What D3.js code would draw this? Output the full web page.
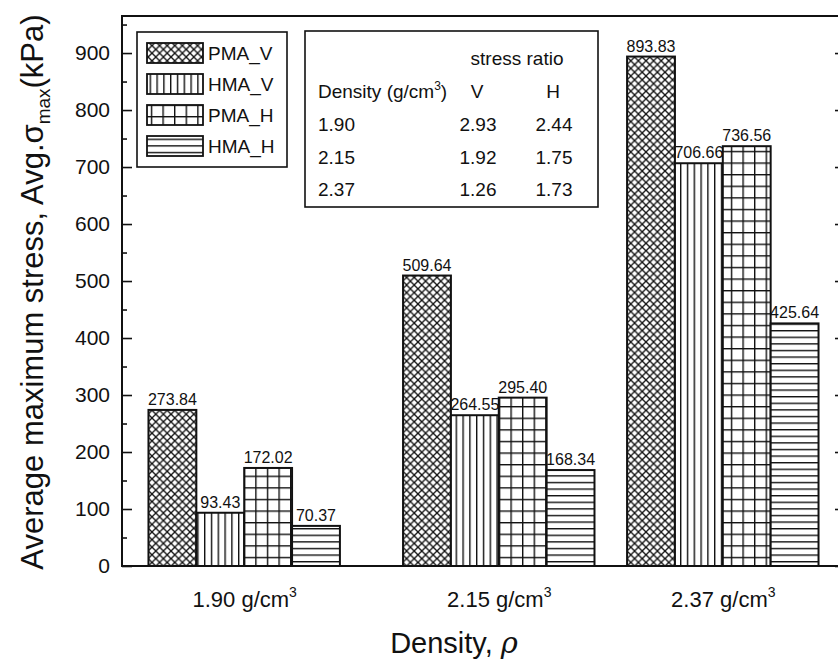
<!DOCTYPE html>
<html>
<head>
<meta charset="utf-8">
<script src="https://cdn.jsdelivr.net/npm/d3@7"></script>
<style>
  body { margin: 0; background: #fff; }
  svg { display: block; font-family: 'Liberation Sans', Arial, sans-serif; }
  .axis path, .axis line { stroke: #111; }
  .axis text { fill: #111; }
</style>
</head>
<body>
<div id="chart"></div>
<script>
// chart values
var densities = [1.90, 2.15, 2.37];
var densityLabels = ['1.90', '2.15', '2.37'];
var seriesNames = ['PMA_V', 'HMA_V', 'PMA_H', 'HMA_H'];
var pmaV = [273.84, 509.64, 893.83];
var hmaV = [93.43, 264.55, 706.66];
var pmaH = [172.02, 295.40, 736.56];
var hmaH = [70.37, 168.34, 425.64];
var ratioV = ['2.93', '1.92', '1.26'];
var ratioH = ['2.44', '1.75', '1.73'];
var yTicks = [0, 100, 200, 300, 400, 500, 600, 700, 800, 900];
var yMinorTicks = [50, 150, 250, 350, 450, 550, 650, 750, 850, 950];

var W = 838, H = 667;
var ink = '#111';

var svg = d3.select('#chart').append('svg')
  .attr('width', W)
  .attr('height', H);

// x is the density itself (groups are not evenly spaced)
var x = d3.scaleLinear().domain([1.78, 2.49]).range([122, 845]);
var y = d3.scaleLinear().domain([0, 965]).range([566, 16]);
var barW = x(1.78 + 0.047) - x(1.78);

// hatch patterns
var defs = svg.append('defs');
function makePattern (id, size, lines, sw) {
  var p = defs.append('pattern')
    .attr('id', id)
    .attr('patternUnits', 'userSpaceOnUse')
    .attr('width', size)
    .attr('height', size);
  p.append('rect').attr('width', size).attr('height', size).attr('fill', '#fff');
  lines.forEach(function (l) {
    p.append('line')
      .attr('x1', l[0]).attr('y1', l[1]).attr('x2', l[2]).attr('y2', l[3])
      .attr('stroke', ink)
      .attr('stroke-width', sw);
  });
}
makePattern('p0', 7.6, [[0, 0, 7.6, 7.6], [7.6, 0, 0, 7.6]], 1.3);
makePattern('p1', 6.8, [[0.7, 0, 0.7, 6.8]], 1.4);
makePattern('p2', 11.6, [[0.7, 0, 0.7, 11.6], [0, 0.7, 11.6, 0.7]], 1.4);
makePattern('p3', 6.6, [[0, 0.7, 6.6, 0.7]], 1.4);

var series = [pmaV, hmaV, pmaH, hmaH];
var fmt = d3.format('.2f');

// bars
series.forEach(function (vals, i) {
  var g = svg.append('g');
  g.selectAll('rect')
    .data(vals)
    .enter().append('rect')
    .attr('x', function (d, j) { return x(densities[j]) + (i - 2) * barW; })
    .attr('y', function (d) { return y(d); })
    .attr('width', barW)
    .attr('height', function (d) { return y(0) - y(d); })
    .attr('fill', 'url(#p' + i + ')')
    .attr('stroke', ink)
    .attr('stroke-width', 2);
  g.selectAll('text')
    .data(vals)
    .enter().append('text')
    .attr('x', function (d, j) { return x(densities[j]) + (i - 1.5) * barW; })
    .attr('y', function (d) { return y(d) - 5; })
    .attr('text-anchor', 'middle')
    .attr('font-size', 16)
    .attr('fill', ink)
    .text(function (d) { return fmt(d); });
});

// frame
svg.append('path')
  .attr('d', 'M' + x(1.78) + ',' + y(0) + 'V' + y(965) + 'H' + x(2.49) + 'V' + y(0) + 'Z')
  .attr('fill', 'none')
  .attr('stroke', ink)
  .attr('stroke-width', 2);

// left axis, inward ticks
svg.append('g')
  .attr('class', 'axis')
  .attr('transform', 'translate(' + x(1.78) + ',0)')
  .call(d3.axisLeft(y).tickValues(yTicks).tickSize(-10).tickPadding(12))
  .call(function (g) { g.select('.domain').remove(); })
  .selectAll('text')
  .attr('font-size', 21)
  .attr('font-family', 'Liberation Sans, Arial, sans-serif');
svg.append('g')
  .attr('class', 'axis')
  .attr('transform', 'translate(' + x(1.78) + ',0)')
  .call(d3.axisLeft(y).tickValues(yMinorTicks).tickSize(-5).tickFormat(''))
  .call(function (g) { g.select('.domain').remove(); });

// right axis, inward ticks
svg.append('g')
  .attr('class', 'axis')
  .attr('transform', 'translate(' + x(2.49) + ',0)')
  .call(d3.axisRight(y).tickValues(yTicks).tickSize(-10).tickFormat(''))
  .call(function (g) { g.select('.domain').remove(); });
svg.append('g')
  .attr('class', 'axis')
  .attr('transform', 'translate(' + x(2.49) + ',0)')
  .call(d3.axisRight(y).tickValues(yMinorTicks).tickSize(-5).tickFormat(''))
  .call(function (g) { g.select('.domain').remove(); });
svg.selectAll('.axis line').attr('stroke-width', 1.6);

// bottom axis labels
var xAxisG = svg.append('g')
  .attr('class', 'axis')
  .attr('transform', 'translate(0,' + y(0) + ')')
  .call(d3.axisBottom(x).tickValues(densities).tickSize(0).tickPadding(0).tickFormat(''));
xAxisG.select('.domain').remove();
xAxisG.selectAll('.tick text')
  .attr('font-size', 22)
  .attr('font-family', 'Liberation Sans, Arial, sans-serif')
  .attr('dy', null)
  .attr('y', 41)
  .each(function (d, j) {
    var t = d3.select(this);
    t.append('tspan').text(densityLabels[j] + ' g/cm');
    t.append('tspan').attr('font-size', 14).attr('dy', -10).text('3');
  });

// axis titles
svg.append('text')
  .attr('x', 454)
  .attr('y', 653)
  .attr('text-anchor', 'middle')
  .attr('font-size', 29)
  .attr('fill', ink)
  .call(function (t) {
    t.append('tspan').text('Density, ');
    t.append('tspan').attr('font-style', 'italic').attr('font-family', 'DejaVu Serif, serif').text('ρ');
  });

svg.append('text')
  .attr('transform', 'translate(43,292) rotate(-90)')
  .attr('text-anchor', 'middle')
  .attr('font-size', 31)
  .attr('fill', ink)
  .call(function (t) {
    t.append('tspan').text('Average maximum stress, Avg.σ');
    t.append('tspan').attr('font-size', 19).attr('dy', 7).text('max');
    t.append('tspan').attr('dy', -7).text('(kPa)');
  });

// legend
var legend = svg.append('g');
legend.append('rect')
  .attr('x', 137).attr('y', 32).attr('width', 150).attr('height', 135)
  .attr('fill', '#fff').attr('stroke', ink).attr('stroke-width', 1.6);
seriesNames.forEach(function (name, i) {
  var top = 43 + i * 31;
  legend.append('rect')
    .attr('x', 147).attr('y', top).attr('width', 56).attr('height', 20)
    .attr('fill', 'url(#p' + i + ')')
    .attr('stroke', ink).attr('stroke-width', 1.8);
  legend.append('text')
    .attr('x', 208).attr('y', top + 17)
    .attr('font-size', 19)
    .attr('fill', ink)
    .text(name);
});

// stress ratio table
var table = svg.append('g').attr('fill', ink).attr('font-size', 19);
table.append('rect')
  .attr('x', 305).attr('y', 31).attr('width', 293).attr('height', 176)
  .attr('fill', '#fff').attr('stroke', ink).attr('stroke-width', 1.6);
table.append('text').attr('x', 517).attr('y', 65).attr('text-anchor', 'middle').text('stress ratio');
table.append('text').attr('x', 318).attr('y', 98)
  .call(function (t) {
    t.append('tspan').text('Density (g/cm');
    t.append('tspan').attr('font-size', 12).attr('dy', -8).text('3');
    t.append('tspan').attr('dy', 8).text(')');
  });
table.append('text').attr('x', 477).attr('y', 98).attr('text-anchor', 'middle').text('V');
table.append('text').attr('x', 553).attr('y', 98).attr('text-anchor', 'middle').text('H');
densityLabels.forEach(function (lab, j) {
  var by = 131 + j * 32.5;
  table.append('text').attr('x', 318).attr('y', by).text(lab);
  table.append('text').attr('x', 478).attr('y', by).attr('text-anchor', 'middle').text(ratioV[j]);
  table.append('text').attr('x', 554).attr('y', by).attr('text-anchor', 'middle').text(ratioH[j]);
});
</script>
</body>
</html>
